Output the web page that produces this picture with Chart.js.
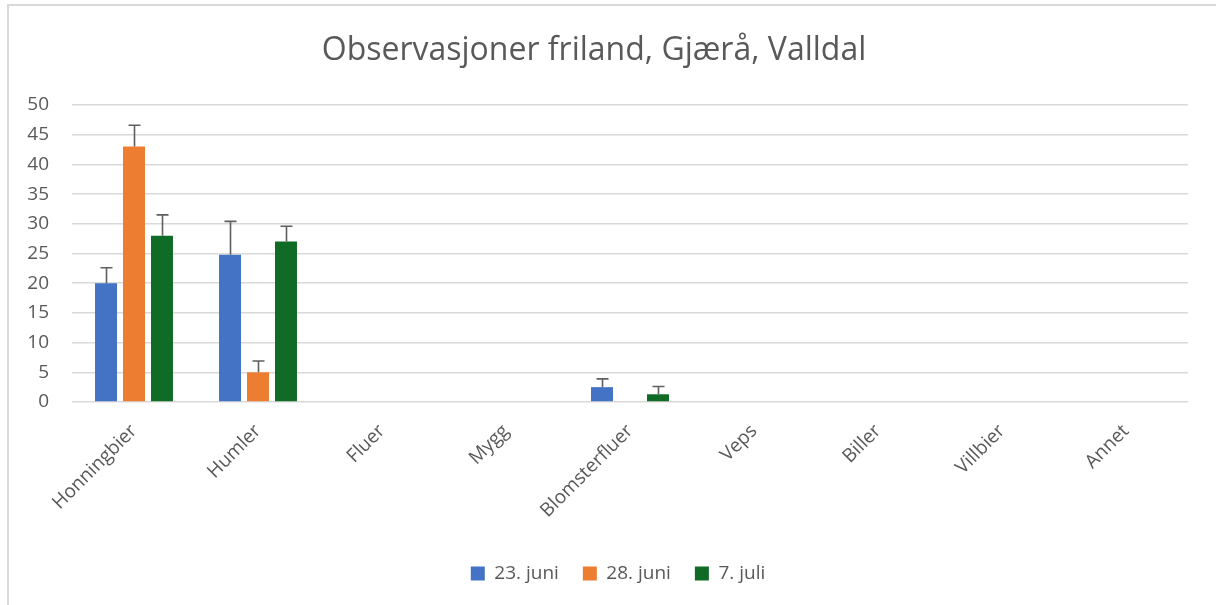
<!DOCTYPE html>
<html>
<head>
<meta charset="utf-8">
<script src="https://cdn.jsdelivr.net/npm/chart.js@4.4.1/dist/chart.umd.min.js"></script>
<style>
  html, body { margin: 0; padding: 0; background: #fff; overflow: hidden; }
  #frame { position: absolute; left: 7px; top: 4px; width: 1400px; height: 800px; border: 2px solid #d9d9d9; box-sizing: border-box; }
  #wrap { position: absolute; left: 0; top: 0; width: 1216px; height: 605px; }
</style>
</head>
<body>
<div id="frame"></div>
<div id="wrap"><canvas id="c" width="1216" height="605"></canvas></div>
<script>
const categories = ['Honningbier', 'Humler', 'Fluer', 'Mygg', 'Blomsterfluer', 'Veps', 'Biller', 'Villbier', 'Annet'];
const seriesNames = ['23. juni', '28. juni', '7. juli'];
const juni23 = [20, 24.8, 0, 0, 2.5, 0, 0, 0, 0];
const juni23Err = [2.6, 5.6, 0, 0, 1.4, 0, 0, 0, 0];
const juni28 = [43, 5, 0, 0, 0, 0, 0, 0, 0];
const juni28Err = [3.6, 1.9, 0, 0, 0, 0, 0, 0, 0];
const juli7 = [28, 27, 0, 0, 1.3, 0, 0, 0, 0];
const juli7Err = [3.5, 2.6, 0, 0, 1.3, 0, 0, 0, 0];
const yTicks = [0, 5, 10, 15, 20, 25, 30, 35, 40, 45, 50];

const colors = ['#4472C4', '#ED7D31', '#0F6B25'];
const errs = [juni23Err, juni28Err, juli7Err];
const textColor = '#595959';

const errorBars = {
  id: 'errorBars',
  afterLayout(chart) {
    chart.legend.left += 24;
    chart.legend.right += 24;
  },
  afterDatasetsDraw(chart) {
    const ctx = chart.ctx;
    const yScale = chart.scales.y;
    ctx.save();
    ctx.strokeStyle = '#5f5f5f';
    ctx.lineWidth = 1.6;
    chart.data.datasets.forEach((ds, i) => {
      const meta = chart.getDatasetMeta(i);
      meta.data.forEach((bar, j) => {
        const e = errs[i][j];
        if (!e) return;
        const v = ds.data[j];
        const yTop = yScale.getPixelForValue(v + e);
        const x = Math.round(bar.x) + 0.5;
        ctx.beginPath();
        ctx.moveTo(x, bar.y);
        ctx.lineTo(x, yTop);
        ctx.moveTo(x - 6, yTop);
        ctx.lineTo(x + 6, yTop);
        ctx.stroke();
      });
    });
    ctx.restore();
  }
};

new Chart(document.getElementById('c'), {
  type: 'bar',
  data: {
    labels: categories,
    datasets: [
      { label: seriesNames[0], data: juni23, backgroundColor: colors[0] },
      { label: seriesNames[1], data: juni28, backgroundColor: colors[1] },
      { label: seriesNames[2], data: juli7, backgroundColor: colors[2] }
    ]
  },
  options: {
    responsive: false,
    animation: false,
    devicePixelRatio: 1,
    datasets: { bar: { categoryPercentage: 0.677, barPercentage: 0.786 } },
    layout: { padding: { left: 0, right: 28, top: 0, bottom: 12 } },
    plugins: {
      title: {
        display: true,
        text: 'Observasjoner friland, Gjærå, Valldal',
        color: textColor,
        font: { family: 'Open Sans', size: 32, weight: 'normal' },
        padding: { top: 32, bottom: 34.6 }
      },
      legend: {
        position: 'bottom',
        labels: {
          color: textColor,
          font: { family: 'Open Sans', size: 19 },
          boxWidth: 14, boxHeight: 14, padding: 24
        }
      },
      tooltip: { enabled: false }
    },
    scales: {
      x: {
        afterFit(scale) { scale.height = 138; },
        grid: { display: false },
        border: { display: false },
        ticks: {
          color: textColor,
          font: { family: 'Open Sans', size: 19 },
          minRotation: 45, maxRotation: 45, padding: 10
        }
      },
      y: {
        min: 0, max: 50,
        afterFit(scale) { scale.width = 72; },
        afterBuildTicks(scale) { scale.ticks = yTicks.map(v => ({ value: v })); },
        grid: { color: '#d9d9d9', lineWidth: 1.5, drawTicks: false },
        border: { display: false },
        ticks: {
          color: textColor,
          font: { family: 'Open Sans', size: 19 },
          padding: 23
        }
      }
    }
  },
  plugins: [errorBars]
});
</script>
</body>
</html>
